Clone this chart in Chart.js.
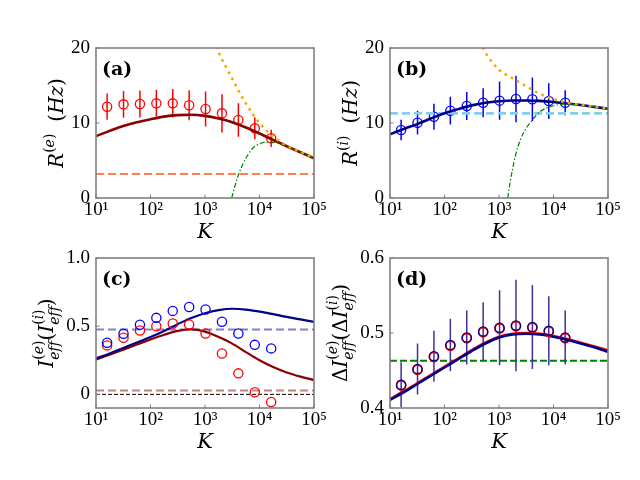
<!DOCTYPE html>
<html>
<head>
<meta charset="utf-8">
<script src="https://cdn.jsdelivr.net/npm/chart.js@4.4.1/dist/chart.umd.min.js"></script>
<style>
  html, body { margin: 0; padding: 0; background: #fff; }
  #wrap { position: relative; width: 640px; height: 480px; overflow: hidden; }
  canvas { position: absolute; }
</style>
</head>
<body>
<div id="wrap">
  <canvas id="pa" width="340" height="240" style="left:0;top:0"></canvas>
  <canvas id="pb" width="340" height="240" style="left:294px;top:0"></canvas>
  <canvas id="pc" width="340" height="240" style="left:0;top:210px"></canvas>
  <canvas id="pd" width="340" height="240" style="left:294px;top:210px"></canvas>
</div>
<script>
// network sizes K for simulations, and sample K for the theory curves
const K = [16, 32, 64, 128, 256, 512, 1024, 2048, 4096, 8192, 16384];
const curveK = [10, 17.78, 31.62, 56.23, 100, 177.8, 316.2, 562.3, 1000, 1778, 3162, 5623, 10000, 17783, 31623, 56234, 100000];
const xTickVals = [10, 100, 1000, 10000, 100000];
const xTickLabels = ['10¹', '10²', '10³', '10⁴', '10⁵'];

// (a) excitatory rate
const rateE = [12.17, 12.49, 12.53, 12.62, 12.62, 12.36, 11.87, 11.29, 10.40, 9.29, 7.96];
const rateEErr = [1.75, 1.78, 1.80, 1.78, 1.90, 2.00, 2.33, 2.56, 2.22, 1.47, 1.15];
const rateETheory = [8.25, 8.95, 9.6, 10.1, 10.5, 10.85, 11.05, 11.1, 10.95, 10.6, 10.1, 9.4, 8.6, 7.75, 6.9, 6.1, 5.3];
const rateEHighK = [1585, 1778, 3162, 5623, 10000, 17783, 31623, 56234, 100000];
const rateEHigh = [20.2, 19.4, 15.9, 12.6, 10.0, 8.2, 7.0, 6.15, 5.35];
const rateEFitK = [3090, 3548, 3981, 5012, 6310, 7943, 10000, 12589, 17783, 31623, 56234, 100000];
const rateEFit = [0, 1.6, 2.8, 4.6, 5.9, 6.8, 7.2, 7.45, 7.45, 6.9, 6.1, 5.3];
const rateEBase = 3.2;
const yTicksA = [0, 10, 20];
const yLabelsA = ['0', '10', '20'];

// (b) inhibitory rate
const rateI = [9.07, 10.04, 10.84, 11.64, 12.27, 12.71, 12.98, 13.2, 13.16, 12.93, 12.71];
const rateIErr = [1.38, 1.58, 1.73, 1.85, 1.87, 1.93, 2.55, 3.1, 2.9, 2.38, 1.67];
const rateITheory = [8.5, 9.2, 9.85, 10.6, 11.3, 11.85, 12.35, 12.7, 12.9, 13.0, 13.0, 12.95, 12.8, 12.6, 12.4, 12.15, 11.9];
const rateIHighK = [501, 562, 1000, 1778, 3162, 5623, 10000, 17783, 31623, 56234, 100000];
const rateIHigh = [20.1, 19.4, 17.1, 15.95, 14.9, 13.9, 13.2, 12.7, 12.45, 12.15, 11.9];
const rateIFitK = [1445, 1585, 1778, 1995, 2512, 3162, 3981, 5623, 10000, 17783, 31623, 56234, 100000];
const rateIFit = [0, 1.9, 3.9, 5.6, 7.9, 9.3, 10.3, 11.5, 12.3, 12.55, 12.4, 12.15, 11.9];
const rateIBase = 11.29;

// (c) effective input
const ieffE = [0.359, 0.415, 0.468, 0.500, 0.520, 0.512, 0.446, 0.300, 0.154, 0.015, -0.056];
const ieffI = [0.378, 0.444, 0.510, 0.561, 0.612, 0.641, 0.622, 0.532, 0.446, 0.363, 0.337];
const ieffETheory = [0.256, 0.29, 0.328, 0.365, 0.402, 0.437, 0.465, 0.476, 0.46, 0.42, 0.372, 0.31, 0.25, 0.2, 0.16, 0.13, 0.105];
const ieffITheory = [0.263, 0.30, 0.34, 0.38, 0.42, 0.465, 0.515, 0.56, 0.595, 0.618, 0.628, 0.622, 0.607, 0.588, 0.568, 0.55, 0.532];
const ieffEBase = 0.029;
const ieffIBase = 0.476;
const yTicksC = [0, 0.5, 1.0];
const yLabelsC = ['0', '0.5', '1.0'];

// (d) input fluctuations
const dIeffE = [0.430, 0.451, 0.468, 0.483, 0.493, 0.501, 0.506, 0.509, 0.507, 0.502, 0.493];
const dIeffI = [0.431, 0.452, 0.469, 0.484, 0.494, 0.502, 0.507, 0.510, 0.508, 0.503, 0.494];
const dIeffErr = [0.03, 0.034, 0.034, 0.035, 0.036, 0.039, 0.05, 0.061, 0.056, 0.046, 0.036];
const dIeffETheory = [0.412, 0.422, 0.433, 0.444, 0.455, 0.466, 0.477, 0.487, 0.495, 0.499, 0.5, 0.499, 0.496, 0.492, 0.487, 0.482, 0.477];
const dIeffITheory = [0.411, 0.421, 0.432, 0.443, 0.454, 0.465, 0.476, 0.486, 0.494, 0.498, 0.499, 0.498, 0.495, 0.491, 0.486, 0.481, 0.475];
const dIeffBase = 0.463;
const yTicksD = [0.4, 0.5, 0.6];
const yLabelsD = ['0.4', '0.5', '0.6'];

const FONT = '"Liberation Serif", serif';
const MFONT = '"DejaVu Serif", serif';

// axis titles as pieces: l=1 superscript, l=-1 subscript, back=stack under the superscript
const sup = s => [{ t: '(', l: 1 }, { t: s, i: 1, l: 1 }, { t: ')', l: 1 }];
const eff = [{ t: 'e', i: 1, l: -1, back: 1 }, { t: 'f', i: 1, l: -1 }, { t: 'f', i: 1, l: -1 }];
const titleA = [{ t: 'R', i: 1 }, ...sup('e'), { gap: 0.6 }, { t: '(' }, { t: 'H', i: 1 }, { t: 'z', i: 1 }, { t: ')' }];
const titleB = [{ t: 'R', i: 1 }, ...sup('i'), { gap: 0.6 }, { t: '(' }, { t: 'H', i: 1 }, { t: 'z', i: 1 }, { t: ')' }];
const titleC = [{ t: 'I', i: 1 }, ...sup('e'), ...eff, { t: '(' }, { t: 'I', i: 1 }, ...sup('i'), ...eff, { t: ')' }];
const titleD = [{ t: 'Δ' }, { t: 'I', i: 1 }, ...sup('e'), ...eff, { t: '(' }, { t: 'Δ' }, { t: 'I', i: 1 }, ...sup('i'), ...eff, { t: ')' }];

// per panel text, kept outside the chart options
const panelText = {
  pa: { label: '(a)', title: titleA, off: 33, hi: 0.45 },
  pb: { label: '(b)', title: titleB, off: 33, hi: 0.45 },
  pc: { label: '(c)', title: titleC, off: 43, hi: 0.5 },
  pd: { label: '(d)', title: titleD, off: 43, hi: 0.5 }
};

function mathText(ctx, parts, size, hi, x0, draw) {
  let x = x0, g = null, gMax = 0;
  for (const p of parts) {
    const lvl = p.l || 0;
    if (p.gap) {
      if (g !== null) { x = Math.max(x, gMax); g = null; }
      x += p.gap * size;
      continue;
    }
    if (!lvl && g !== null) { x = Math.max(x, gMax); g = null; }
    if (lvl && g === null) { g = x; gMax = x; }
    if (lvl && p.back) x = g;
    const fs = lvl ? size * 0.7 : size;
    ctx.font = (p.i ? 'italic ' : '') + fs + 'px ' + MFONT;
    if (draw) ctx.fillText(p.t, x, lvl > 0 ? -size * hi : lvl < 0 ? size * 0.3 : 0);
    x += ctx.measureText(p.t).width;
    if (lvl) gMax = Math.max(gMax, x);
  }
  if (g !== null) x = Math.max(x, gMax);
  return x - x0;
}

const deco = {
  id: 'deco',
  afterDatasetsDraw(chart) {
    const o = panelText[chart.canvas.id];
    const { ctx, chartArea: a } = chart;
    const xs = chart.scales.x, ys = chart.scales.y;
    ctx.save();
    ctx.strokeStyle = '#808080';
    ctx.lineWidth = 1;
    ctx.beginPath();
    xs.ticks.forEach(t => {
      const p = xs.getPixelForValue(t.value);
      ctx.moveTo(p, a.bottom); ctx.lineTo(p, a.bottom - 3.5);
    });
    ys.ticks.forEach(t => {
      const p = ys.getPixelForValue(t.value);
      ctx.moveTo(a.left, p); ctx.lineTo(a.left + 3.5, p);
    });
    ctx.stroke();
    ctx.lineWidth = 1.6;
    ctx.strokeRect(a.left, a.top, a.right - a.left, a.bottom - a.top);

    ctx.fillStyle = '#000';
    ctx.textBaseline = 'alphabetic';
    ctx.textAlign = 'left';
    ctx.font = 'bold 19px ' + MFONT;
    ctx.fillText(o.label, a.left + 6, a.top + 27);

    ctx.textAlign = 'center';
    ctx.font = 'italic 21px ' + MFONT;
    ctx.fillText('K', (a.left + a.right) / 2, a.bottom + 40);

    ctx.textAlign = 'left';
    const size = 20;
    const w = mathText(ctx, o.title, size, o.hi, 0, false);
    ctx.translate(a.left - o.off, (a.top + a.bottom) / 2);
    ctx.rotate(-Math.PI / 2);
    mathText(ctx, o.title, size, o.hi, -w / 2, true);
    ctx.restore();
  }
};

const pts = (xs, ys) => xs.map((x, i) => ({ x, y: ys[i] }));
const hline = v => [{ x: 10, y: v }, { x: 100000, y: v }];
function errSegs(xs, ys, es) {
  const out = [];
  xs.forEach((x, i) => { out.push({ x, y: ys[i] - es[i] }, { x, y: ys[i] + es[i] }, { x, y: null }); });
  return out;
}
function curve(data, color, width, dash, smooth) {
  return {
    data, borderColor: color, borderWidth: width, borderDash: dash || [], pointRadius: 0,
    fill: false, spanGaps: false, tension: smooth ? 0.4 : 0,
    cubicInterpolationMode: smooth ? 'monotone' : 'default', borderCapStyle: 'butt'
  };
}
function circles(data, color, bw) {
  return {
    data, showLine: false, pointRadius: 4.6, pointStyle: 'circle', pointBorderColor: color,
    pointBackgroundColor: 'rgba(0,0,0,0)', pointBorderWidth: bw || 1.3
  };
}

function makePanel(id, datasets, yMin, yMax, yTicks, yLabels) {
  datasets.forEach((d, i) => { d.order = datasets.length - i; });
  return new Chart(document.getElementById(id), {
    type: 'line',
    data: { datasets },
    options: {
      responsive: false,
      animation: false,
      layout: { padding: { left: 0, top: 48, right: 26, bottom: 0 } },
      plugins: { legend: { display: false }, tooltip: { enabled: false } },
      scales: {
        x: {
          type: 'logarithmic', min: 10, max: 100000,
          grid: { display: false, drawTicks: false }, border: { display: false },
          afterBuildTicks: s => { s.ticks = xTickVals.map(v => ({ value: v })); },
          afterFit: s => { s.height = 42; },
          ticks: {
            color: '#000', padding: 1, maxRotation: 0, autoSkip: false,
            font: { family: FONT, size: 19 },
            callback: (v, i) => xTickLabels[i]
          }
        },
        y: {
          type: 'linear', min: yMin, max: yMax,
          grid: { display: false, drawTicks: false }, border: { display: false },
          afterBuildTicks: s => { s.ticks = yTicks.map(v => ({ value: v })); },
          afterFit: s => { s.width = 96; },
          ticks: {
            color: '#000', padding: 6, autoSkip: false,
            font: { family: FONT, size: 19 },
            callback: (v, i) => yLabels[i]
          }
        }
      }
    },
    plugins: [deco]
  });
}

makePanel('pa', [
  curve(errSegs(K, rateE, rateEErr), '#ff0000', 1.5),
  circles(pts(K, rateE), '#ff0000'),
  curve(hline(rateEBase), '#ff7f50', 2, [8, 4]),
  curve(pts(curveK, rateETheory), '#8b0000', 2.6, [], true),
  curve(pts(rateEFitK, rateEFit), '#008000', 1.2, [5, 2, 1.5, 2], true),
  curve(pts(rateEHighK, rateEHigh), '#ffa500', 2.6, [2.6, 4.4], true)
], 0, 20, yTicksA, yLabelsA);

makePanel('pb', [
  curve(errSegs(K, rateI, rateIErr), '#0000ff', 1.5),
  circles(pts(K, rateI), '#0000ff'),
  curve(hline(rateIBase), '#87ceeb', 2.6, [8, 4]),
  curve(pts(curveK, rateITheory), '#00008b', 2.6, [], true),
  curve(pts(rateIFitK, rateIFit), '#008000', 1.2, [5, 2, 1.5, 2], true),
  curve(pts(rateIHighK, rateIHigh), '#ffa500', 2.6, [2.6, 4.4], true)
], 0, 20, yTicksA, yLabelsA);

makePanel('pc', [
  curve(hline(0), '#000000', 1, [4, 2]),
  curve(hline(ieffEBase), 'rgba(139,0,0,0.5)', 2, [8, 4]),
  curve(hline(ieffIBase), 'rgba(0,0,139,0.5)', 2, [8, 4]),
  curve(pts(curveK, ieffETheory), '#8b0000', 2.2, [], true),
  curve(pts(curveK, ieffITheory), '#00008b', 2.2, [], true),
  circles(pts(K, ieffE), '#ff0000'),
  circles(pts(K, ieffI), '#0000ff')
], -0.1, 1.0, yTicksC, yLabelsC);

makePanel('pd', [
  curve(hline(dIeffBase), '#008000', 2, [7, 3]),
  curve(errSegs(K, dIeffI, dIeffErr), '#41309a', 1.5),
  curve(pts(curveK, dIeffETheory), '#ff0000', 2.6, [], true),
  curve(pts(curveK, dIeffITheory), '#00008b', 2.6, [], true),
  circles(pts(K, dIeffE), '#ff0000', 1.6),
  circles(pts(K, dIeffI), '#00008b', 1.3)
], 0.4, 0.6, yTicksD, yLabelsD);
</script>
</body>
</html>
